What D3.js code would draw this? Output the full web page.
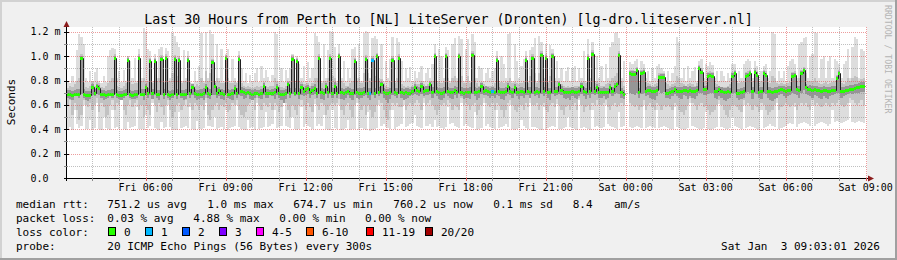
<!DOCTYPE html>
<html>
<head>
  <meta charset="utf-8">
  <title>Last 30 Hours from Perth to [NL] LiteServer (Dronten)</title>
  <script src="https://cdnjs.cloudflare.com/ajax/libs/d3/7.8.5/d3.min.js"></script>
  <style>
    body { margin: 0; background: #ffffff; }
    svg text { font-family: 'DejaVu Sans Mono', monospace; fill: #000000; white-space: pre; }
  </style>
</head>
<body>
<svg id="chart" width="897" height="260"></svg>
<script>
// time window of the graph (30 hours, one sample every 300 s)
const startTime = new Date(Date.UTC(2026, 0, 2, 3, 3, 1));
const endTime = new Date(Date.UTC(2026, 0, 3, 9, 3, 1));
const stepSec = 300;

// median rtt per sample, in microseconds (null = no data)
const medianUs = [
  690,688,686,690,692,690,990,688,684,680,684,750,700,752,742,694,690,686,688,690,694,990,690,686,684,688,692,970,690,686,
  688,692,990,690,694,750,700,960,696,960,692,688,980,694,990,690,686,692,980,694,970,690,688,694,970,700,750,696,690,694,
  692,696,750,700,694,950,760,700,720,696,692,990,694,690,696,740,700,980,712,706,700,704,698,694,700,696,692,700,760,700,
  700,698,702,706,750,702,694,690,696,770,700,980,700,960,700,750,712,730,736,708,724,742,700,990,704,700,760,706,990,700,
  760,700,1000,704,700,708,712,702,698,960,704,700,702,706,980,702,700,970,702,1000,710,770,706,700,698,704,970,706,702,990,
  704,700,706,702,700,712,750,722,716,760,712,720,724,770,708,1000,714,704,700,708,1000,712,706,704,724,710,1000,708,702,706,
  704,706,1010,708,704,712,760,716,720,714,704,712,708,970,712,708,704,712,760,716,708,750,710,706,712,708,970,716,710,990,
  710,716,708,1010,712,990,710,704,1000,712,718,770,720,710,706,708,704,712,708,706,714,760,712,708,990,712,1020,716,750,708,
  706,710,704,708,750,712,760,770,1010,704,690,null,null,860,858,856,886,710,862,870,716,722,720,718,714,720,830,834,832,702,
  700,704,712,730,716,716,718,722,720,716,722,718,714,720,900,870,730,730,840,844,842,712,716,730,714,710,708,712,710,840,
  860,702,700,706,712,840,846,860,716,870,850,708,712,860,844,716,712,706,718,714,726,730,720,716,720,722,840,844,730,726,
  860,884,750,730,732,726,730,722,720,718,722,720,716,718,722,724,820,860,712,718,722,726,734,732,740,746,748,756,760,null
];

// samples that lost pings, and how many of 20
const lossIndex = [136, 137, 191];
const lossCount = [1, 1, 1];

// outer smoke: lowest and highest ping of the 20 (us)
const smokeMinUs = [
  400,420,395,560,440,410,430,600,400,405,480,400,410,620,400,395,500,410,400,392,560,410,420,404,640,400,392,460,410,420,
  430,580,400,405,395,520,415,430,620,410,400,396,460,410,420,600,420,400,396,392,540,410,420,430,410,580,404,396,470,400,
  400,410,620,430,430,420,500,400,410,420,404,560,398,410,420,430,600,420,400,396,392,480,410,420,396,620,400,410,420,540,
  420,430,440,560,410,420,430,620,430,420,410,500,400,392,400,580,420,440,430,420,400,610,430,440,430,520,400,392,396,560,
  410,404,600,396,404,410,480,392,400,404,620,396,410,400,392,540,390,396,404,410,600,430,440,420,410,400,560,404,420,430,
  440,600,420,430,440,450,520,430,420,410,620,430,430,440,420,480,420,430,410,400,420,580,440,450,430,420,410,620,430,440,
  430,420,410,540,396,400,410,620,430,440,420,410,400,560,410,420,430,440,420,600,400,396,404,410,480,430,410,400,620,420,
  420,410,400,396,580,400,410,420,430,420,610,400,404,410,420,500,420,410,400,396,640,410,420,410,400,396,560,420,430,420,
  410,420,600,440,430,420,410,400,540,420,430,null,null,420,410,420,430,420,410,600,410,420,430,420,410,560,410,420,430,420,
  410,400,404,580,420,410,400,396,404,410,620,430,420,410,404,400,410,540,404,396,400,410,420,610,420,410,400,404,410,500,
  430,420,410,400,600,410,420,430,420,410,400,396,560,410,420,430,440,430,420,620,404,410,420,430,440,450,440,580,420,440,
  450,460,450,440,430,600,430,440,450,460,450,440,430,440,560,460,470,460,450,460,470,480,620,460,450,460,470,460,450,null
];
const smokeMaxUs = [
  800,780,840,790,1050,1180,1160,1100,820,790,880,800,870,900,800,780,840,790,1000,1050,1070,1060,820,880,790,890,800,1000,960,820,
  990,800,1060,820,1230,1200,1060,1040,800,1020,820,1060,1080,800,1070,1040,820,1190,1170,1120,1080,800,1050,820,1040,800,780,880,800,920,
  1190,800,1200,820,1220,1180,800,1100,820,1060,800,1020,1060,800,980,820,790,1040,900,800,860,780,850,800,860,900,790,920,820,890,
  830,790,850,1200,1180,800,900,790,890,820,900,1020,800,1000,940,820,920,800,950,820,900,1190,1170,1120,800,1100,820,1050,1210,1200,
  1080,800,1100,820,960,800,900,820,1060,1080,820,1100,800,1190,1210,1200,820,1150,1170,1140,820,1100,800,960,820,980,1160,800,1150,1120,
  960,800,900,820,910,800,880,820,870,920,800,860,900,820,940,1100,800,1060,1000,820,1080,1050,800,1100,1150,820,1170,1140,800,1060,
  1140,800,1180,1120,820,920,900,800,860,900,820,880,900,1040,800,1000,940,820,1180,1190,800,1100,960,820,920,980,1040,800,1050,1080,
  1150,800,1170,1120,820,1100,800,1090,1060,820,960,820,900,800,880,910,800,900,920,800,900,820,1040,800,1140,820,1120,800,1000,820,
  920,800,940,820,1080,1120,1190,1200,1150,820,960,null,null,950,940,960,980,800,960,940,820,880,800,900,820,920,940,900,880,800,
  880,800,860,920,1160,1120,820,900,800,920,820,880,910,800,960,980,820,940,920,950,930,820,880,800,880,840,800,860,820,940,
  940,800,880,820,940,960,980,960,820,960,920,800,880,920,940,820,880,1200,1180,800,880,820,880,800,920,960,980,940,820,1100,
  1120,1150,1160,820,1000,1020,1200,1190,820,980,1000,820,960,1000,820,980,960,940,820,940,960,1060,820,1080,1160,1140,820,1060,1040,null
];

// middle smoke band (us)
const smokeLowUs = [
  600,640,520,620,560,480,520,640,600,580,620,560,600,660,540,620,580,500,520,600,640,560,620,600,660,560,520,600,640,580,
  620,640,560,600,500,600,560,520,660,600,540,620,580,520,600,640,560,500,540,600,620,560,600,640,580,620,560,620,600,560,
  600,560,660,520,480,560,600,620,560,600,580,620,540,560,620,600,640,560,520,500,540,600,620,640,560,660,600,560,620,600,
  580,620,560,620,600,540,580,660,620,560,500,600,560,520,600,640,600,560,620,580,540,650,600,560,620,600,520,560,600,620,
  600,620,650,560,520,600,620,560,500,600,660,620,560,600,520,600,560,500,540,600,640,620,560,500,480,560,620,600,620,580,
  580,640,560,600,620,600,620,640,620,560,660,600,620,640,600,560,520,560,600,620,600,640,620,560,600,580,560,660,600,620,
  600,560,600,620,520,560,600,660,620,600,580,620,560,620,600,560,500,560,620,640,600,560,540,580,600,560,620,580,660,600,
  600,620,560,600,620,560,540,600,620,580,650,600,560,520,580,600,560,600,620,560,660,600,540,580,600,560,620,600,640,600,
  600,620,640,580,560,600,620,580,600,620,600,null,null,620,600,580,600,560,580,640,560,600,620,580,560,620,600,560,600,580,
  600,580,560,620,600,560,540,520,560,600,660,620,600,560,600,620,580,600,560,520,540,560,600,640,600,560,520,500,560,600,
  600,580,560,540,640,600,620,600,560,600,580,540,620,600,560,520,540,560,600,660,560,580,600,620,600,580,600,620,560,600,
  620,600,620,580,560,640,600,620,600,580,600,620,600,580,620,600,620,640,600,580,600,620,660,640,620,600,620,640,600,null
];
const smokeHighUs = [
  740,760,750,770,800,820,1020,780,750,740,760,790,760,790,780,750,740,760,780,800,820,1020,760,750,740,760,780,1000,800,770,
  780,780,1020,800,820,790,800,990,780,990,800,820,1010,780,1020,800,800,860,1010,840,1000,780,800,800,1000,780,760,760,770,760,
  820,780,880,800,860,980,790,820,800,780,780,1010,820,780,780,800,780,1010,780,760,750,760,750,740,750,760,750,760,790,760,
  750,760,760,820,800,760,750,740,760,800,800,1010,780,990,800,790,770,770,780,760,780,820,820,1020,780,800,800,820,1020,840,
  820,780,1030,800,780,760,760,780,800,990,800,820,780,860,1010,860,800,1000,840,1030,800,810,780,760,750,800,1000,780,820,1020,
  770,760,750,760,750,760,790,770,770,800,770,760,770,800,800,1030,780,800,780,800,1030,820,780,820,840,800,1030,840,780,780,
  840,780,1040,820,780,760,790,770,760,760,760,760,780,1000,780,790,780,790,800,820,780,790,780,770,780,800,1000,780,840,1020,
  860,780,860,1040,800,1020,780,840,1030,800,800,800,770,760,750,760,750,750,760,760,760,790,800,780,1020,800,1050,780,800,780,
  760,760,770,780,800,820,840,860,1040,800,760,null,null,890,890,880,910,780,890,900,790,780,770,760,770,780,860,860,860,780,
  770,760,770,780,840,820,780,770,760,770,780,770,760,780,930,900,800,800,870,880,870,780,770,760,750,750,750,760,770,870,
  890,780,780,790,800,870,880,890,800,900,880,780,800,890,880,790,780,840,820,780,770,780,770,770,780,790,870,880,800,820,
  890,910,860,800,800,790,820,800,780,770,780,790,770,780,790,800,850,890,780,770,790,820,800,820,840,830,800,810,820,null
];

// dark core of the smoke, close to the median (us)
const coreLowUs = [
  660,650,640,670,680,660,690,660,640,630,650,680,670,690,680,660,640,650,660,670,660,690,660,650,640,660,670,680,660,650,
  650,660,690,670,640,680,660,680,650,680,660,640,680,650,680,660,640,660,680,650,680,660,640,650,680,660,680,660,640,650,
  660,640,680,660,650,680,680,660,670,650,640,690,660,650,640,680,660,680,670,650,660,680,650,640,660,680,660,650,680,660,
  660,680,670,650,680,660,640,620,650,690,660,690,670,680,650,680,670,680,690,660,680,690,660,690,650,640,690,660,690,660,
  690,660,690,650,640,660,680,660,640,680,660,650,660,670,680,660,640,680,660,690,670,690,660,640,620,650,680,670,660,690,
  660,640,650,660,670,680,690,680,670,690,670,680,680,690,660,690,670,650,640,660,690,670,660,650,680,660,690,670,650,660,
  660,650,690,670,640,660,690,680,680,670,660,670,660,680,670,650,640,670,690,680,660,690,670,650,670,660,680,680,660,690,
  670,680,660,690,670,690,660,640,690,670,680,690,680,660,650,660,640,670,660,650,670,690,670,650,680,660,690,680,690,660,
  660,670,650,660,690,670,690,700,690,660,650,null,null,700,690,680,700,660,690,700,670,680,660,650,640,670,720,700,710,660,
  660,650,670,690,670,660,650,680,670,650,670,660,650,670,700,700,680,680,690,700,700,660,650,670,660,640,630,650,660,700,
  700,660,640,650,660,700,710,700,650,700,690,660,650,700,690,660,640,630,650,660,680,690,670,660,670,680,700,690,680,660,
  700,720,690,680,670,660,680,670,660,650,670,660,650,670,680,690,700,700,660,670,680,690,700,690,700,700,700,710,710,null
];
const coreHighUs = [
  720,720,716,724,730,730,1006,730,716,712,716,772,730,772,768,724,720,716,720,726,730,1006,720,716,714,720,730,986,724,716,
  720,726,1006,730,730,772,740,976,730,976,724,720,996,730,1006,720,716,726,996,728,986,722,720,728,986,732,772,730,720,726,
  730,736,772,740,730,966,784,740,750,730,724,1006,728,720,728,766,740,996,744,736,730,734,728,724,730,726,720,730,782,734,
  730,726,734,740,774,736,726,720,730,792,736,996,740,976,736,776,742,760,766,742,756,770,736,1006,736,730,784,740,1006,736,
  790,740,1016,740,732,740,744,736,730,976,740,736,740,746,996,740,736,986,742,1016,746,792,740,732,730,740,986,742,736,1006,
  736,730,740,736,732,746,774,752,748,784,744,752,756,792,744,1016,750,740,736,744,1016,748,740,740,756,746,1016,744,736,740,
  740,744,1026,744,736,746,784,748,752,746,736,744,740,986,744,740,736,744,784,748,740,774,742,738,744,740,986,750,744,1006,
  744,750,740,1026,744,1006,742,736,1016,746,750,786,752,742,738,740,736,744,740,738,746,784,744,740,1006,746,1036,750,774,742,
  738,744,736,740,774,746,784,792,1026,738,722,null,null,880,878,876,906,742,882,890,748,754,752,748,746,752,850,854,852,734,
  734,738,744,756,748,748,750,754,752,748,754,750,746,752,920,890,760,760,860,864,862,744,748,756,746,742,740,744,742,860,
  880,734,732,738,744,860,866,880,748,890,870,740,744,880,864,748,744,738,750,746,756,760,752,748,752,754,860,864,760,756,
  880,904,774,760,762,756,760,752,750,748,752,750,746,748,752,756,840,880,744,750,754,758,764,762,770,776,778,786,790,null
];

const yTicks = [0, 200, 400, 600, 800, 1000, 1200];
const lossBuckets = ['0', '1', '2', '3', '4-5', '6-10', '11-19', '20/20'];
const lossUpper = [0, 1, 2, 3, 5, 10, 19, 20];
const lossColors = ['#26ff00', '#00b8ff', '#0059ff', '#7e00ff', '#ff00ff', '#ff5500', '#ff0000', '#a10000'];
const rttStats = ['751.2 us avg', '1.0 ms max', '674.7 us min', '760.2 us now', '0.1 ms sd', '8.4', 'am/s'];
const lossStats = ['0.03 % avg', '4.88 % max', '0.00 % min', '0.00 % now'];
const probeText = '20 ICMP Echo Pings (56 Bytes) every 300s';
const stampText = 'Sat Jan  3 09:03:01 2026';

const W = 897, H = 260;
const plot = { left: 67, right: 867, top: 27, bottom: 178 };

const svg = d3.select('#chart');

// canvas with the rrdtool style shaded frame
svg.append('rect').attr('width', W).attr('height', H).attr('fill', '#f0f0f0');
svg.append('rect').attr('x', 0).attr('y', 0).attr('width', W).attr('height', 2).attr('fill', '#d2d2d2');
svg.append('rect').attr('x', 0).attr('y', 0).attr('width', 2).attr('height', H).attr('fill', '#d2d2d2');
svg.append('rect').attr('x', 0).attr('y', H - 2).attr('width', W).attr('height', 2).attr('fill', '#a0a0a0');
svg.append('rect').attr('x', W - 2).attr('y', 0).attr('width', 2).attr('height', H).attr('fill', '#a0a0a0');

svg.append('rect')
  .attr('x', plot.left).attr('y', plot.top)
  .attr('width', plot.right - plot.left).attr('height', plot.bottom - plot.top)
  .attr('fill', '#ffffff');

const x = d3.scaleUtc().domain([startTime, endTime]).range([plot.left, plot.right]);
const y = d3.scaleLinear().domain([0, 1241]).range([plot.bottom, plot.top]);

const samples = medianUs.map((v, i) => ({
  i: i,
  t0: new Date(startTime.getTime() + i * stepSec * 1000),
  t1: new Date(startTime.getTime() + (i + 1) * stepSec * 1000),
  median: v
}));
samples.forEach(d => {
  d.x0 = Math.round(x(d.t0));
  d.x1 = Math.round(x(d.t1));
  const k = lossIndex.indexOf(d.i);
  d.loss = k >= 0 ? lossCount[k] : 0;
});

// smoke, lightest band first
const levels = [
  { lo: smokeMinUs, hi: smokeMaxUs, color: '#dddddd' },
  { lo: smokeLowUs, hi: smokeHighUs, color: '#c2c2c2' },
  { lo: coreLowUs, hi: coreHighUs, color: '#969696' }
];
const smokeG = svg.append('g').attr('shape-rendering', 'crispEdges');
levels.forEach(level => {
  smokeG.append('g')
    .attr('fill', level.color)
    .selectAll('rect')
    .data(samples.filter(d => level.hi[d.i] != null))
    .join('rect')
    .attr('x', d => d.x0)
    .attr('width', d => d.x1 - d.x0)
    .attr('y', d => Math.round(y(level.hi[d.i])))
    .attr('height', d => Math.round(y(level.lo[d.i])) - Math.round(y(level.hi[d.i])));
});

// median line as steps, on pixel centres so the verticals stay 1px
const pts = [];
samples.forEach(d => {
  if (d.median == null) { pts.push(null); return; }
  const ym = Math.round(y(d.median)) + 0.5;
  pts.push([d.x0 + 0.5, ym]);
  pts.push([d.x1 + 0.5, ym]);
});
svg.append('path')
  .attr('d', d3.line().defined(p => p != null)(pts))
  .attr('fill', 'none')
  .attr('stroke', '#202020')
  .attr('stroke-width', 1);

// loss coloured marks on the median
svg.append('g')
  .attr('shape-rendering', 'crispEdges')
  .selectAll('rect')
  .data(samples.filter(d => d.median != null))
  .join('rect')
  .attr('x', d => d.x0)
  .attr('width', d => d.x1 - d.x0)
  .attr('y', d => Math.round(y(d.median)) - 1)
  .attr('height', 3)
  .attr('fill', d => lossColors[lossUpper.findIndex(u => d.loss <= u)]);

// grid on top, dotted
const gridG = svg.append('g').attr('shape-rendering', 'crispEdges');
const hours = x.ticks(d3.utcHour.every(1));
hours.forEach(h => {
  const major = h.getUTCHours() % 3 === 0;
  const xp = Math.round(x(h)) + 0.5;
  gridG.append('line')
    .attr('x1', xp).attr('x2', xp)
    .attr('y1', plot.top).attr('y2', plot.bottom)
    .attr('stroke', major ? '#e05a5a' : '#8c8c8c')
    .attr('stroke-opacity', major ? 0.6 : 0.55)
    .attr('stroke-dasharray', '1,1');
});
d3.range(100, 1241, 100).forEach(v => {
  const major = v % 200 === 0;
  const yp = Math.round(y(v)) + 0.5;
  gridG.append('line')
    .attr('x1', plot.left).attr('x2', plot.right)
    .attr('y1', yp).attr('y2', yp)
    .attr('stroke', major ? '#e05a5a' : '#8c8c8c')
    .attr('stroke-opacity', major ? 0.6 : 0.55)
    .attr('stroke-dasharray', '1,1');
});

// axes
const axisG = svg.append('g').attr('shape-rendering', 'crispEdges');
axisG.append('line')
  .attr('x1', plot.left - 3).attr('x2', plot.right + 1)
  .attr('y1', plot.bottom + 0.5).attr('y2', plot.bottom + 0.5)
  .attr('stroke', '#000');
axisG.append('line')
  .attr('x1', plot.left - 0.5).attr('x2', plot.left - 0.5)
  .attr('y1', plot.bottom + 3).attr('y2', plot.top)
  .attr('stroke', '#000');
hours.forEach(h => {
  const xp = Math.round(x(h)) + 0.5;
  axisG.append('line')
    .attr('x1', xp).attr('x2', xp)
    .attr('y1', plot.bottom).attr('y2', plot.bottom + 3)
    .attr('stroke', h.getUTCHours() % 3 === 0 ? '#e05a5a' : '#8c8c8c');
});
d3.range(0, 1241, 100).forEach(v => {
  const yp = Math.round(y(v)) + 0.5;
  axisG.append('line')
    .attr('x1', plot.left - 3).attr('x2', plot.left + (v % 200 === 0 ? 2 : 1))
    .attr('y1', yp).attr('y2', yp)
    .attr('stroke', v % 200 === 0 ? '#000' : '#8c8c8c');
});
svg.append('path')
  .attr('d', `M${plot.left - 3.5},${plot.top} L${plot.left + 2.5},${plot.top} L${plot.left - 0.5},${plot.top - 6} Z`)
  .attr('fill', '#8b1c1c');
svg.append('path')
  .attr('d', `M${plot.right + 1},${plot.bottom - 2.5} L${plot.right + 1},${plot.bottom + 3.5} L${plot.right + 7},${plot.bottom + 0.5} Z`)
  .attr('fill', '#8b1c1c');

// tick labels
svg.append('g')
  .selectAll('text')
  .data(yTicks)
  .join('text')
  .attr('x', 30.5)
  .attr('y', d => y(d) + 3.5)
  .attr('font-size', '10px')
  .text(d => d === 0 ? '0.0' : (d / 1000).toFixed(1) + ' m');

const fmt = d3.utcFormat('%a %H:%M');
svg.append('g')
  .selectAll('text')
  .data(x.ticks(d3.utcHour.every(3)))
  .join('text')
  .attr('x', d => x(d))
  .attr('y', 191)
  .attr('text-anchor', 'middle')
  .attr('font-size', '10px')
  .text(d => fmt(d));

// titles
svg.append('text')
  .attr('x', 448.5).attr('y', 23.5)
  .attr('text-anchor', 'middle')
  .attr('font-size', '13.3px')
  .text('Last 30 Hours from Perth to [NL] LiteServer (Dronten) [lg-dro.liteserver.nl]');
svg.append('text')
  .attr('transform', 'translate(15,102) rotate(-90)')
  .attr('text-anchor', 'middle')
  .attr('font-size', '11px')
  .text('Seconds');
svg.append('text')
  .attr('transform', 'translate(885,5) rotate(90)')
  .attr('font-size', '8.2px')
  .style('fill', '#b4b4b4')
  .text('RRDTOOL / TOBI OETIKER');

// legend
const legend = svg.append('g').attr('font-size', '11px');
const rowY = [208, 222, 236, 250];
legend.append('text').attr('x', 16).attr('y', rowY[0]).text('median rtt:');
const rttX = [107.3, 207.3, 293.3, 393.3, 493.3, 572.7, 614];
rttStats.forEach((s, k) => legend.append('text').attr('x', rttX[k]).attr('y', rowY[0]).text(s));

legend.append('text').attr('x', 16).attr('y', rowY[1]).text('packet loss:');
const lossX = [107.3, 193.3, 279.3, 365];
lossStats.forEach((s, k) => legend.append('text').attr('x', lossX[k]).attr('y', rowY[1]).text(s));

legend.append('text').attr('x', 16).attr('y', rowY[2]).text('loss color:');
const boxX = [108.5, 145.5, 182.5, 219.5, 256.5, 306.5, 366.5, 425.5];
lossBuckets.forEach((b, k) => {
  legend.append('rect')
    .attr('x', boxX[k]).attr('y', rowY[2] - 8.5)
    .attr('width', 7).attr('height', 8)
    .attr('fill', lossColors[k])
    .attr('stroke', '#000')
    .attr('stroke-width', 1);
  legend.append('text').attr('x', boxX[k] + 15.5).attr('y', rowY[2]).text(b);
});

legend.append('text').attr('x', 16).attr('y', rowY[3]).text('probe:');
legend.append('text').attr('x', 107.3).attr('y', rowY[3]).text(probeText);
legend.append('text').attr('x', 880).attr('y', rowY[3]).attr('text-anchor', 'end').text(stampText);
</script>
</body>
</html>
